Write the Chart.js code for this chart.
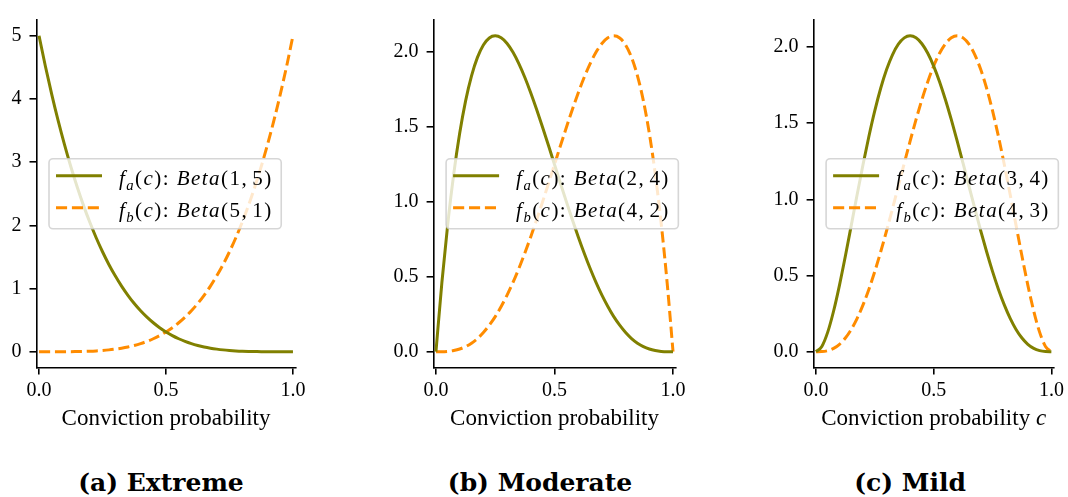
<!DOCTYPE html>
<html><head><meta charset="utf-8">
<script src="https://cdn.jsdelivr.net/npm/chart.js@4.4.1/dist/chart.umd.min.js"></script>
<style>
html,body{margin:0;padding:0;background:#fff;width:1068px;height:497px;overflow:hidden;}
.panel{position:absolute;top:0;height:440px;}
.cap{position:absolute;top:470px;font:bold 25px "DejaVu Serif";line-height:25px;white-space:nowrap;transform:translateX(-50%);color:#000;}
</style></head><body>
<div class="panel" style="left:0px;width:320px"><canvas id="c1" width="320" height="440"></canvas></div>
<div class="panel" style="left:380px;width:310px"><canvas id="c2" width="310" height="440"></canvas></div>
<div class="panel" style="left:760px;width:308px"><canvas id="c3" width="308" height="440"></canvas></div>
<div class="cap" id="cap1" style="left:161px"></div>
<div class="cap" id="cap2" style="left:540px"></div>
<div class="cap" id="cap3" style="left:910px"></div>
<script>
// ---- data ----
const xValues = [0,0.025,0.05,0.075,0.1,0.125,0.15,0.175,0.2,0.225,0.25,0.275,0.3,0.325,0.35,0.375,0.4,0.425,0.45,0.475,0.5,0.525,0.55,0.575,0.6,0.625,0.65,0.675,0.7,0.725,0.75,0.775,0.8,0.825,0.85,0.875,0.9,0.925,0.95,0.975,1];

const extremeA = [5,4.518,4.073,3.660,3.281,2.931,2.610,2.316,2.048,1.804,1.582,1.381,1.201,1.038,0.893,0.763,0.648,0.547,0.458,0.380,0.313,0.255,0.205,0.163,0.128,0.099,0.075,0.056,0.041,0.029,0.020,0.013,0.008,0.005,0.003,0.001,0.001,0,0,0,0];
const extremeB = [0,0,0,0,0.001,0.001,0.003,0.005,0.008,0.013,0.020,0.029,0.041,0.056,0.075,0.099,0.128,0.163,0.205,0.255,0.313,0.380,0.458,0.547,0.648,0.763,0.893,1.038,1.201,1.381,1.582,1.804,2.048,2.316,2.610,2.931,3.281,3.660,4.073,4.518,5];

const moderateA = [0,0.463,0.857,1.187,1.458,1.675,1.842,1.965,2.048,2.095,2.109,2.096,2.058,1.999,1.922,1.831,1.728,1.616,1.497,1.375,1.250,1.125,1.002,0.883,0.768,0.659,0.557,0.463,0.378,0.302,0.234,0.177,0.128,0.088,0.057,0.034,0.018,0.008,0.002,0,0];
const moderateB = [0,0,0.002,0.008,0.018,0.034,0.057,0.088,0.128,0.177,0.234,0.302,0.378,0.463,0.557,0.659,0.768,0.883,1.002,1.125,1.250,1.375,1.497,1.616,1.728,1.831,1.922,1.999,2.058,2.096,2.109,2.095,2.048,1.965,1.842,1.675,1.458,1.187,0.857,0.463,0];

const mildA = [0,0.0348,0.1286,0.2671,0.4374,0.6281,0.8291,1.0318,1.2288,1.4139,1.5820,1.7291,1.8522,1.9491,2.0185,2.0599,2.0736,2.0603,2.0215,1.9589,1.8750,1.7724,1.6539,1.5228,1.3824,1.2360,1.0869,0.9384,0.7938,0.6559,0.5273,0.4105,0.3072,0.2189,0.1463,0.0897,0.0486,0.0217,0.0068,0.0009,0];
const mildB = [0,0.0009,0.0068,0.0217,0.0486,0.0897,0.1463,0.2189,0.3072,0.4105,0.5273,0.6559,0.7938,0.9384,1.0869,1.2360,1.3824,1.5228,1.6539,1.7724,1.8750,1.9589,2.0215,2.0603,2.0736,2.0599,2.0185,1.9491,1.8522,1.7291,1.5820,1.4139,1.2288,1.0318,0.8291,0.6281,0.4374,0.2671,0.1286,0.0348,0];

const labelsExtreme = ["$f_a(c)$: $Beta(1,5)$", "$f_b(c)$: $Beta(5,1)$"];
const labelsModerate = ["$f_a(c)$: $Beta(2,4)$", "$f_b(c)$: $Beta(4,2)$"];
const labelsMild = ["$f_a(c)$: $Beta(3,4)$", "$f_b(c)$: $Beta(4,3)$"];

const xTicks = [0, 0.5, 1];
const xTickLabels = ["0.0", "0.5", "1.0"];
const yTicksExtreme = [0, 1, 2, 3, 4, 5];
const yTickLabelsExtreme = ["0", "1", "2", "3", "4", "5"];
const yTicksOther = [0, 0.5, 1, 1.5, 2];
const yTickLabelsOther = ["0.0", "0.5", "1.0", "1.5", "2.0"];
const xTitles = ["Conviction probability", "Conviction probability", "Conviction probability $c$"];
const captions = ["(a) Extreme", "(b) Moderate", "(c) Mild"];

// ---- rich (math) text helpers ----
const FAM = '"Liberation Serif", "Times New Roman", serif';
function parseRich(s){
  const segs=[]; let math=false;
  for(let i=0;i<s.length;i++){
    const ch=s[i];
    if(ch==='$'){math=!math;continue;}
    if(math && ch==='_'){ segs.push({t:s[++i],st:'sub'}); continue; }
    if(math && /[A-Za-z]/.test(ch)) segs.push({t:ch,st:'it'});
    else if(math && ch===','){ segs.push({t:',',st:'rm'}); segs.push({sp:0.2}); }
    else segs.push({t:ch,st:'rm'});
  }
  return segs;
}
function fontFor(st,size){
  if(st==='it') return 'italic '+size+'px '+FAM;
  if(st==='sub') return 'italic '+(size*0.7)+'px '+FAM;
  return size+'px '+FAM;
}
function measureRich(ctx,segs,size,ls){
  let w=0; ctx.save();
  for(const s of segs){ if(s.sp){w+=s.sp*size;continue;} ctx.font=fontFor(s.st,size); w+=ctx.measureText(s.t).width+ls; }
  ctx.restore(); return w-ls;
}
function drawRich(ctx,segs,x,y,size,ls){
  ctx.save(); ctx.textAlign='left'; ctx.textBaseline='alphabetic'; ctx.fillStyle='#000';
  for(const s of segs){
    if(s.sp){x+=s.sp*size;continue;}
    ctx.font=fontFor(s.st,size);
    ctx.fillText(s.t,x,s.st==='sub'?y+size*0.22:y);
    x+=ctx.measureText(s.t).width+ls;
  }
  ctx.restore();
}

const mathLegend = {
  id:'mathLegend',
  afterDatasetsDraw(chart){
    const o = chart.options.plugins.mathLegend; if(!o) return;
    const ctx=chart.ctx, ca=chart.chartArea, size=o.fontSize;
    const rows = chart.data.datasets.map(ds=>({ds, segs:parseRich(ds.label)}));
    const textW = Math.max(...rows.map(r=>measureRich(ctx,r.segs,size,o.ls)));
    const L = ca.left + o.offsetX, W = o.textOffset + textW + o.padRight, H = o.height;
    const T = (ca.top+ca.bottom)/2 - H/2;
    ctx.save();
    ctx.beginPath(); ctx.roundRect(L,T,W,H,4);
    ctx.fillStyle='rgba(255,255,255,0.8)'; ctx.fill();
    ctx.lineWidth=1.6; ctx.strokeStyle='rgba(204,204,204,0.8)'; ctx.stroke();
    rows.forEach((r,i)=>{
      const yy = T + o.rowY[i];
      ctx.beginPath(); ctx.setLineDash(r.ds.borderDash||[]);
      ctx.strokeStyle=r.ds.borderColor; ctx.lineWidth=r.ds.borderWidth;
      ctx.moveTo(L+7,yy); ctx.lineTo(L+53,yy); ctx.stroke(); ctx.setLineDash([]);
      drawRich(ctx,r.segs,L+o.textOffset,yy+o.baseOff,size,o.ls);
    });
    ctx.restore();
  }
};
const mathXTitle = {
  id:'mathXTitle',
  afterDraw(chart){
    const o = chart.options.plugins.mathXTitle; if(!o) return;
    const ctx=chart.ctx, ca=chart.chartArea;
    const segs=parseRich(o.text); const w=measureRich(ctx,segs,o.fontSize,0);
    drawRich(ctx,segs,(ca.left+ca.right)/2 - w/2, o.baseline, o.fontSize,0);
  }
};

function makeChart(id, ya, yb, labels, yTicks, yTickLabels, yMin, yMax, yWidth, padRight, xTitle){
  const mk = ys => xValues.map((x,i)=>({x, y: ys[i]}));
  const tickFont = {family: FAM, size: 20};
  return new Chart(document.getElementById(id), {
    type:'line',
    data:{datasets:[
      {label:labels[0], data:mk(ya), borderColor:'#808000', borderWidth:3, pointRadius:0, cubicInterpolationMode:'monotone', fill:false},
      {label:labels[1], data:mk(yb), borderColor:'#ff8c00', borderWidth:3, borderDash:[11.1,4.8], pointRadius:0, cubicInterpolationMode:'monotone', fill:false}
    ]},
    options:{
      responsive:false, animation:false, devicePixelRatio:1,
      layout:{padding:{left:0, right:padRight, top:10, bottom:0}},
      plugins:{legend:{display:false}, tooltip:{enabled:false},
        mathLegend:{fontSize:21, ls:1.45, offsetX:12.5, textOffset:70, padRight:10, height:70, rowY:[17,49], baseOff:9.5},
        mathXTitle:{text:xTitle, fontSize:23, baseline:425}},
      scales:{
        x:{type:'linear', min:-0.01, max:1.01,
          afterBuildTicks:s=>{s.ticks = xTicks.map(v=>({value:v}));},
          afterFit:s=>{s.height=72.5;},
          ticks:{font:tickFont, color:'#000', padding:4, maxRotation:0, autoSkip:false,
            callback:(v)=>{const i=xTicks.indexOf(v); return i>=0?xTickLabels[i]:'';}},
          grid:{display:true, drawOnChartArea:false, drawTicks:true, tickLength:7, color:'#000', lineWidth:1.6},
          border:{display:true, color:'#000', width:1.6}},
        y:{type:'linear', min:yMin, max:yMax,
          afterBuildTicks:s=>{s.ticks = yTicks.map(v=>({value:v}));},
          afterFit:s=>{s.width=yWidth;},
          ticks:{font:tickFont, color:'#000', padding:8, autoSkip:false,
            callback:(v)=>{const i=yTicks.indexOf(v); return i>=0?yTickLabels[i]:'';}},
          grid:{display:true, drawOnChartArea:false, drawTicks:true, tickLength:7, color:'#000', lineWidth:1.6},
          border:{display:true, color:'#000', width:1.6}}
      }
    },
    plugins:[mathLegend, mathXTitle]
  });
}

makeChart('c1', extremeA, extremeB, labelsExtreme, yTicksExtreme, yTickLabelsExtreme, -0.25, 5.25, 36.5, 24.5, xTitles[0]);
makeChart('c2', moderateA, moderateB, labelsModerate, yTicksOther, yTickLabelsOther, -0.1055, 2.2148, 53.6, 14.6, xTitles[1]);
makeChart('c3', mildA, mildB, labelsMild, yTicksOther, yTickLabelsOther, -0.1037, 2.1773, 53.6, 12.6, xTitles[2]);
document.getElementById('cap1').textContent = captions[0];
document.getElementById('cap2').textContent = captions[1];
document.getElementById('cap3').textContent = captions[2];
</script>
</body></html>
